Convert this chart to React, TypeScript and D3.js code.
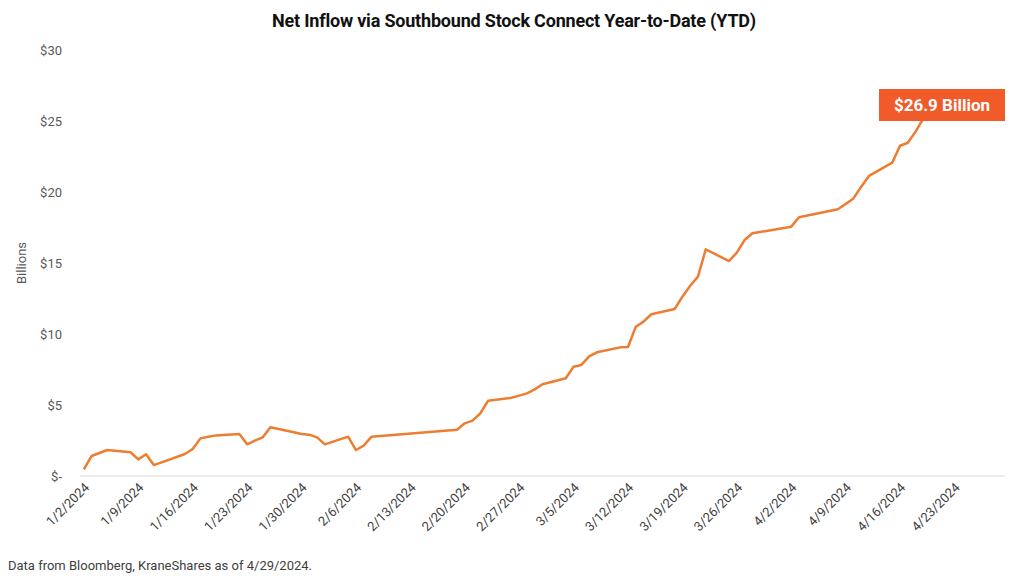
import React from 'react';
import * as d3 from 'd3';

// trading days (M/D, 2024) and YTD net inflow in $ billions
const dates: string[] = [
  '1/2', '1/3', '1/4', '1/5', '1/8', '1/9', '1/10', '1/11', '1/12',
  '1/15', '1/16', '1/17', '1/18', '1/19', '1/22', '1/23', '1/24', '1/25', '1/26',
  '1/29', '1/30', '1/31', '2/1', '2/2', '2/5', '2/6', '2/7', '2/8',
  '2/19', '2/20', '2/21', '2/22', '2/23', '2/26', '2/27', '2/28', '2/29', '3/1',
  '3/4', '3/5', '3/6', '3/7', '3/8', '3/11', '3/12', '3/13', '3/14', '3/15',
  '3/18', '3/19', '3/20', '3/21', '3/22', '3/25', '3/26', '3/27', '3/28',
  '4/2', '4/3', '4/8', '4/9', '4/10', '4/11', '4/12',
  '4/15', '4/16', '4/17', '4/18', '4/19', '4/22', '4/23', '4/24', '4/25', '4/26',
];

const values: number[] = [
  0.47, 1.41, 1.62, 1.83, 1.67, 1.17, 1.53, 0.77, 0.96,
  1.55, 1.9, 2.65, 2.77, 2.86, 2.96, 2.23, 2.49, 2.72, 3.43,
  3.08, 2.96, 2.91, 2.72, 2.23, 2.77, 1.83, 2.14, 2.77,
  3.26, 3.71, 3.9, 4.41, 5.3, 5.51, 5.66, 5.82, 6.1, 6.46,
  6.88, 7.7, 7.82, 8.43, 8.71, 9.06, 9.08, 10.51, 10.87, 11.39,
  11.76, 12.63, 13.4, 14.04, 15.96, 15.14, 15.73, 16.62, 17.09,
  17.56, 18.22, 18.78, 19.15, 19.55, 20.37, 21.13,
  22.07, 23.26, 23.47, 24.25, 25.19, 25.7, 26.0, 26.3, 26.6, 26.9,
];

const xTickLabels: string[] = [
  '1/2/2024', '1/9/2024', '1/16/2024', '1/23/2024', '1/30/2024', '2/6/2024',
  '2/13/2024', '2/20/2024', '2/27/2024', '3/5/2024', '3/12/2024', '3/19/2024',
  '3/26/2024', '4/2/2024', '4/9/2024', '4/16/2024', '4/23/2024',
];

const yTicks: number[] = [0, 5, 10, 15, 20, 25, 30];

const title = 'Net Inflow via Southbound Stock Connect Year-to-Date (YTD)';
const callout = '$26.9 Billion';
const footnote = 'Data from Bloomberg, KraneShares as of 4/29/2024.';

const parseMD = (s: string) => {
  const [m, d] = s.split('/').map(Number);
  return new Date(2024, m - 1, d, 12);
};

const FONT = 'Roboto, "Noto Sans", sans-serif';

const App: React.FC = () => {
  const left = 80;
  const right = 1005;
  const top = 50;
  const bottom = 476;

  // Excel style date axis: each day is a slot, points sit in the middle
  const xScale = d3.scaleTime()
    .domain([new Date(2024, 0, 2, 0), new Date(2024, 3, 30, 0)])
    .range([left, right]);

  const yScale = d3.scaleLinear()
    .domain([0, 30])
    .range([bottom, top]);

  const points = dates.map((d, i) => ({ date: parseMD(d), value: values[i] }));

  const line = d3.line<{ date: Date; value: number }>()
    .x(d => xScale(d.date))
    .y(d => yScale(d.value));

  const last = points[points.length - 1];
  const boxW = 126;
  const boxH = 32;
  const boxX = right - boxW;
  const boxY = yScale(last.value) - 5;

  const fmt = (v: number) => (v === 0 ? '$-' : `$${v}`);

  return (
    <div style={{ position: 'fixed', left: 0, top: 0 }}>
      <svg width={1024} height={576} style={{ display: 'block', background: '#fff' }} fontFamily={FONT}>
        <text x={514} y={27} textAnchor="middle" fontSize={18} fontWeight="bold" fill="#111"
          style={{ letterSpacing: '-0.2px' }}>
          {title}
        </text>

        {/* y axis labels */}
        {yTicks.map(t => (
          <text key={t} x={62} y={yScale(t)} dy="0.35em" textAnchor="end" fontSize={13} fill="#595959">
            {fmt(t)}
          </text>
        ))}
        <text transform="translate(26,263) rotate(-90)" textAnchor="middle" fontSize={13} fill="#595959">
          Billions
        </text>

        {/* baseline */}
        <line x1={left} x2={right} y1={bottom} y2={bottom} stroke="#d9d9d9" strokeWidth={1} />

        {/* x axis labels */}
        {xTickLabels.map(lbl => {
          const x = xScale(parseMD(lbl.slice(0, lbl.lastIndexOf('/'))));
          return (
            <text key={lbl} transform={`translate(${x + 3},${bottom + 9}) rotate(-45)`} textAnchor="end"
              dy="0.35em" fontSize={13} fill="#404040">
              {lbl}
            </text>
          );
        })}

        <path d={line(points) || ''} fill="none" stroke="#ED7D31" strokeWidth={2.5} strokeLinejoin="round" />

        {/* callout */}
        <rect x={boxX} y={boxY} width={boxW} height={boxH} fill="#F15A29" />
        <text x={boxX + boxW / 2} y={boxY + boxH / 2} dy="0.36em" textAnchor="middle" fontSize={17}
          fontWeight="bold" fill="#fff">
          {callout}
        </text>

        <text x={8} y={570} fontSize={13} fill="#404040">{footnote}</text>
      </svg>
    </div>
  );
};

export default App;
